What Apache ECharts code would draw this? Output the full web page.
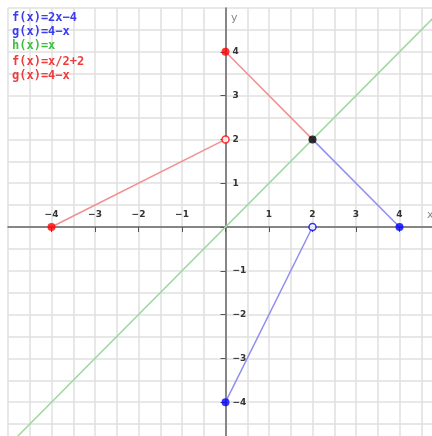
<!DOCTYPE html>
<html>
<head>
<meta charset="utf-8">
<script src="https://cdn.jsdelivr.net/npm/echarts@6/dist/echarts.min.js"></script>
<style>
  html, body { margin: 0; padding: 0; background: #fff; }
  #grafico { width: 432px; height: 436px; }
</style>
</head>
<body>
<div id="grafico"></div>
<script>
// piecewise pieces, endpoints in (x, y)
var redPiece1 = [[-4, 0], [0, 2]];    // f(x)=x/2+2
var redPiece2 = [[0, 4], [2, 2]];     // g(x)=4-x
var bluePiece1 = [[0, -4], [2, 0]];   // f(x)=2x-4
var bluePiece2 = [[2, 2], [4, 0]];    // g(x)=4-x
var greenLine = [[-5, -5], [5, 5]];   // h(x)=x

var redClosed = [[-4, 0], [0, 4]];
var redOpen = [[0, 2]];
var blueClosed = [[0, -4], [4, 0]];
var blueOpen = [[2, 0]];
var blackDot = [[2, 2]];

var legendLines = [
    { text: 'f(x)=2x\u22124', color: '#3b3bf0' },
    { text: 'g(x)=4\u2212x', color: '#3b3bf0' },
    { text: 'h(x)=x', color: '#3fbf3f' },
    { text: 'f(x)=x/2+2', color: '#f03b3b' },
    { text: 'g(x)=4\u2212x', color: '#f03b3b' }
];
var legendY = [19, 33, 47, 63, 77];

var dom = document.getElementById("grafico");
var myChart = echarts.init(dom);

function tickText(v) {
    if (v === 0) return '';
    return String(v).replace('-', '\u2212');
}

// grid geometry: 43.5 px per unit across, 43.8 px per unit down
var gLeft = 8, gTop = 8, gW = 435, gH = 438;
var gridColor = '#e0e0e0';
var labelStyle = { color: '#333', fontSize: 9, fontWeight: 'bold', fontFamily: 'DejaVu Sans' };

function lineSeries(data, color) {
    return {
        type: 'line', data: data, symbol: 'none', silent: true,
        lineStyle: { color: color, width: 1.5 }, z: 3
    };
}
function dotSeries(data, color, open) {
    return {
        type: 'scatter', data: data, symbol: 'circle', symbolSize: open ? 7 : 8, silent: true,
        itemStyle: open ? { color: '#fff', borderColor: color, borderWidth: 1.5 } : { color: color },
        z: 5
    };
}

var graphics = legendLines.map(function (l, i) {
    return {
        type: 'text', left: 12, top: legendY[i] - 7, z: 100,
        style: { text: l.text, fill: l.color, font: 'bold 12px "DejaVu Sans Mono"' }
    };
});
graphics.push({ type: 'text', left: 231, top: 13, z: 100, style: { text: 'y', fill: '#888', font: '11px "DejaVu Sans"' } });
graphics.push({ type: 'text', left: 427, top: 210, z: 100, style: { text: 'x', fill: '#888', font: '11px "DejaVu Sans"' } });

var option = {
    backgroundColor: '#fff',
    animation: false,
    grid: {
        left: gLeft, top: gTop, width: gW, height: gH,
        outerBoundsMode: 'none', containLabel: false
    },
    xAxis: {
        type: 'value', min: -5, max: 5, interval: 1,
        position: 'bottom', offset: -gH / 2,
        axisLine: { onZero: false, lineStyle: { color: '#666', width: 1.5 } },
        axisTick: { show: true, length: 5, lineStyle: { color: '#555' } },
        axisLabel: Object.assign({ inside: true, margin: 8, formatter: tickText, showMinLabel: false, showMaxLabel: false }, labelStyle),
        splitLine: { lineStyle: { color: gridColor, width: 1.5 } },
        minorTick: { show: false, splitNumber: 2 },
        minorSplitLine: { show: true, lineStyle: { color: gridColor, width: 1.5 } }
    },
    yAxis: {
        type: 'value', min: -5, max: 5, interval: 1,
        position: 'left', offset: -gW / 2,
        axisLine: { onZero: false, lineStyle: { color: '#666', width: 1.5 } },
        axisTick: { show: true, length: 5, lineStyle: { color: '#555' } },
        axisLabel: Object.assign({ inside: true, margin: 7, formatter: tickText, showMinLabel: false, showMaxLabel: false }, labelStyle),
        splitLine: { lineStyle: { color: gridColor, width: 1.5 } },
        minorTick: { show: false, splitNumber: 2 },
        minorSplitLine: { show: true, lineStyle: { color: gridColor, width: 1.5 } }
    },
    graphic: graphics,
    series: [
        lineSeries(greenLine, '#9fd89f'),
        lineSeries(redPiece1, '#f09090'),
        lineSeries(redPiece2, '#f09090'),
        lineSeries(bluePiece1, '#8f8ff0'),
        lineSeries(bluePiece2, '#8f8ff0'),
        dotSeries(redClosed, '#ff0000', false),
        dotSeries(redOpen, '#ff0000', true),
        dotSeries(blueClosed, '#0000ff', false),
        dotSeries(blueOpen, '#0000ff', true),
        dotSeries(blackDot, '#000000', false)
    ]
};
myChart.setOption(option, true);
</script>
</body>
</html>
